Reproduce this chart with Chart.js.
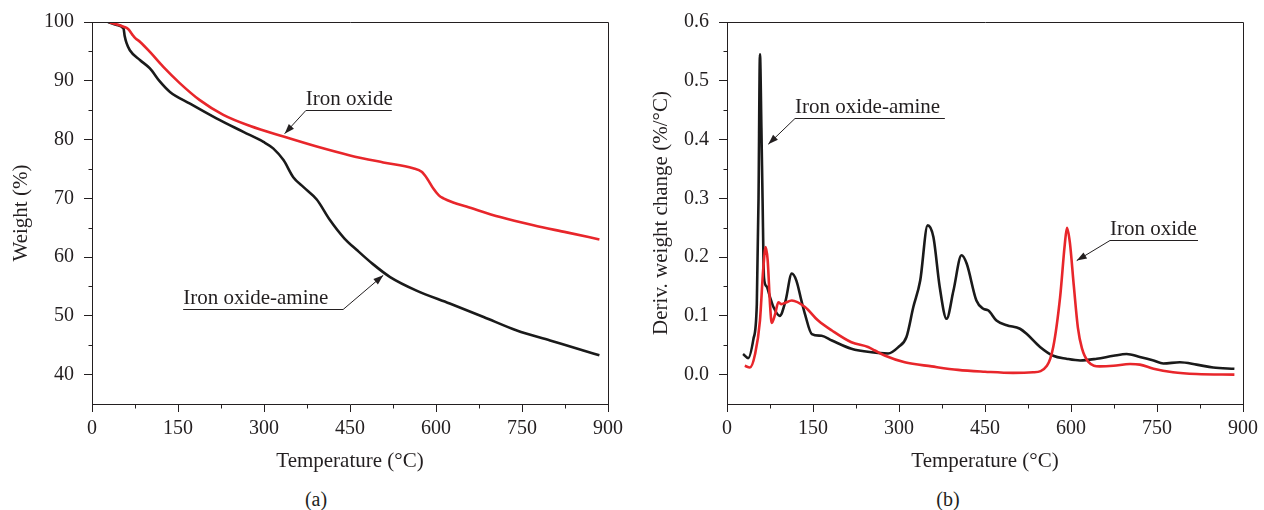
<!DOCTYPE html>
<html>
<head>
<meta charset="utf-8">
<script src="https://cdn.jsdelivr.net/npm/chart.js@4.4.1/dist/chart.umd.min.js"></script>
<style>
  body { margin:0; background:#fff; width:1264px; height:510px; position:relative; overflow:hidden; font-family:"Liberation Serif", serif; }
  canvas { position:absolute; top:0; }
  .cap { position:absolute; top:488px; width:632px; text-align:center; font-size:20px; color:#231f20; }
</style>
</head>
<body>
<canvas id="tga" width="632" height="480" style="left:0"></canvas>
<canvas id="dtg" width="632" height="480" style="left:632px"></canvas>
<div class="cap" style="left:0">(a)</div>
<div class="cap" style="left:632px">(b)</div>
<script>
// axis ticks
var xTicks = [0, 150, 300, 450, 600, 750, 900];
var xMinor = [75, 225, 375, 525, 675, 825];
var tgaTicks = [40, 50, 60, 70, 80, 90, 100];
var tgaMinor = [45, 55, 65, 75, 85, 95];
var dtgTicks = [0, 0.1, 0.2, 0.3, 0.4, 0.5, 0.6];
var dtgMinor = [0.05, 0.15, 0.25, 0.35, 0.45, 0.55];

// (a) weight, iron oxide-amine
var amineTgaT = [28, 43, 55, 57, 60, 66, 84, 101, 119, 136, 171, 217, 264, 299, 316, 334, 351, 369, 392, 415, 440, 462, 490, 520, 566, 624, 683, 741, 799, 857, 885];
var amineTgaW = [100, 99.5, 98.9, 97.6, 96.5, 95.2, 93.5, 92.1, 89.8, 88.1, 86.1, 83.6, 81.3, 79.6, 78.5, 76.5, 73.6, 71.9, 69.8, 66.3, 63.2, 61.2, 58.8, 56.6, 54.3, 52.1, 49.8, 47.5, 45.8, 44.1, 43.3];
// (a) weight, iron oxide
var oxideTgaT = [31, 55, 63, 70, 75, 84, 101, 124, 153, 188, 229, 276, 334, 392, 450, 508, 560, 575, 585, 595, 605, 613, 630, 653, 712, 770, 828, 885];
var oxideTgaW = [99.9, 99.2, 98.8, 97.9, 97.3, 96.6, 94.9, 92.4, 89.6, 86.7, 84.2, 82.3, 80.5, 78.8, 77.3, 76.1, 75.1, 74.5, 73.3, 71.7, 70.5, 70.0, 69.3, 68.6, 66.8, 65.4, 64.2, 63.0];

// (b) derivative, iron oxide-amine
var amineDtgT = [28, 37, 46, 52, 55, 57.5, 60, 62, 64.5, 69, 75, 81, 92, 102, 113, 121, 130, 136, 148, 165, 183, 217, 252, 281, 299, 313, 325, 337, 350, 360, 371, 383, 395, 409, 418, 435, 447, 456, 470, 488, 511, 523, 546, 569, 592, 616, 645, 674, 697, 720, 744, 761, 790, 819, 848, 885];
var amineDtgD = [0.035, 0.028, 0.06, 0.12, 0.3, 0.545, 0.42, 0.3, 0.165, 0.15, 0.132, 0.115, 0.10, 0.125, 0.172, 0.16, 0.125, 0.103, 0.069, 0.066, 0.058, 0.044, 0.038, 0.036, 0.047, 0.064, 0.115, 0.16, 0.254, 0.234, 0.149, 0.095, 0.143, 0.203, 0.189, 0.126, 0.112, 0.109, 0.092, 0.084, 0.078, 0.069, 0.047, 0.032, 0.027, 0.024, 0.027, 0.032, 0.035, 0.03, 0.024, 0.019, 0.021, 0.017, 0.012, 0.01];
// (b) derivative, iron oxide
var oxideDtgT = [31, 40, 49, 57.5, 63, 67.5, 71, 75, 78, 84, 89.5, 95, 101, 113, 136, 159, 183, 217, 246, 258, 276, 310, 357, 403, 450, 499, 534, 558, 569, 581, 589, 593, 598, 605, 612, 619, 630, 650, 674, 703, 720, 744, 778, 819, 885];
var oxideDtgD = [0.015, 0.012, 0.035, 0.092, 0.177, 0.217, 0.194, 0.12, 0.088, 0.103, 0.123, 0.12, 0.122, 0.126, 0.115, 0.092, 0.075, 0.055, 0.047, 0.041, 0.032, 0.021, 0.014, 0.008, 0.005, 0.003, 0.004, 0.015, 0.047, 0.132, 0.22, 0.25, 0.225, 0.15, 0.08, 0.045, 0.022, 0.014, 0.015, 0.018, 0.017, 0.01, 0.004, 0.001, 0.0];

var ink = '#231f20';
var red = '#e8262b';
var black = '#1a1a1a';
var serif = '"Liberation Serif", "Times New Roman", serif';

Chart.defaults.font.family = serif;
Chart.defaults.color = ink;

function pairs(xs, ys) {
  return xs.map(function (x, i) { return { x: x, y: ys[i] }; });
}

function line(data, color) {
  return {
    data: data,
    borderColor: color,
    borderWidth: 2.6,
    pointRadius: 0,
    fill: false,
    cubicInterpolationMode: 'monotone'
  };
}

// frame, minor ticks and the arrow labels
function extras(minorY, notes) {
  return {
    id: 'extras',
    afterDraw: function (chart) {
      var ctx = chart.ctx, a = chart.chartArea;
      var sx = chart.scales.x, sy = chart.scales.y;
      var L = Math.round(a.left) + 0.5, R = Math.round(a.right) + 0.5;
      var T = Math.round(a.top) + 0.5, B = Math.round(a.bottom) + 0.5;
      ctx.save();
      ctx.strokeStyle = ink;
      ctx.fillStyle = ink;
      ctx.lineWidth = 1;
      ctx.beginPath();
      ctx.moveTo(L, T); ctx.lineTo(R, T); ctx.lineTo(R, B);
      xMinor.forEach(function (v) {
        var p = Math.round(sx.getPixelForValue(v)) + 0.5;
        ctx.moveTo(p, B); ctx.lineTo(p, B + 4);
      });
      minorY.forEach(function (v) {
        var p = Math.round(sy.getPixelForValue(v)) + 0.5;
        ctx.moveTo(L, p); ctx.lineTo(L - 4, p);
      });
      ctx.stroke();

      notes.forEach(function (n) {
        var x1 = sx.getPixelForValue(n.under[0]), x2 = sx.getPixelForValue(n.under[1]);
        var y = Math.round(sy.getPixelForValue(n.under[2])) + 0.5;
        var tx = sx.getPixelForValue(n.tip[0]), ty = sy.getPixelForValue(n.tip[1]);
        var ox = n.from === 'end' ? x2 : x1;
        ctx.beginPath();
        ctx.moveTo(x1, y); ctx.lineTo(x2, y);
        ctx.moveTo(ox, y); ctx.lineTo(tx, ty);
        ctx.stroke();
        var ang = Math.atan2(ty - y, tx - ox), c = Math.cos(ang), s = Math.sin(ang);
        ctx.beginPath();
        ctx.moveTo(tx, ty);
        ctx.lineTo(tx - 10 * c + 3.5 * s, ty - 10 * s - 3.5 * c);
        ctx.lineTo(tx - 10 * c - 3.5 * s, ty - 10 * s + 3.5 * c);
        ctx.closePath();
        ctx.fill();
        ctx.font = '21px ' + serif;
        ctx.textAlign = 'left';
        ctx.textBaseline = 'alphabetic';
        ctx.fillText(n.text, x1, y - 6);
      });
      ctx.restore();
    }
  };
}

function axes(yMin, yMax, yTicks, yTitle, yWidth, yTitlePad, fmt) {
  return {
    x: {
      type: 'linear', min: 0, max: 900,
      afterBuildTicks: function (s) { s.ticks = xTicks.map(function (v) { return { value: v }; }); },
      afterFit: function (s) { s.height = 76; },
      grid: { drawOnChartArea: false, tickLength: 8, tickColor: ink },
      border: { color: ink },
      ticks: { font: { size: 20 }, padding: 5, maxRotation: 0 },
      title: { display: true, text: 'Temperature (°C)', font: { size: 21 }, padding: { top: 0, bottom: 6 } }
    },
    y: {
      type: 'linear', min: yMin, max: yMax,
      afterBuildTicks: function (s) { s.ticks = yTicks.map(function (v) { return { value: v }; }); },
      afterFit: function (s) { s.width = yWidth; },
      grid: { drawOnChartArea: false, tickLength: 8, tickColor: ink },
      border: { color: ink },
      ticks: { font: { size: 20 }, padding: 10, callback: fmt },
      title: { display: true, text: yTitle, font: { size: 21 }, padding: { top: yTitlePad, bottom: 0 } }
    }
  };
}

var common = {
  responsive: false,
  animation: false,
  devicePixelRatio: 1,
  plugins: { legend: { display: false }, tooltip: { enabled: false } }
};

new Chart(document.getElementById('tga'), {
  type: 'line',
  data: { datasets: [line(pairs(oxideTgaT, oxideTgaW), red), line(pairs(amineTgaT, amineTgaW), black)] },
  options: Object.assign({}, common, {
    layout: { padding: { left: 0, top: 22, right: 24, bottom: 0 } },
    scales: axes(35, 100, tgaTicks, 'Weight (%)', 92, 9, function (v) { return v; })
  }),
  plugins: [extras(tgaMinor, [
    { text: 'Iron oxide', under: [373, 523, 85.0], tip: [336, 81.0], from: 'start' },
    { text: 'Iron oxide-amine', under: [159, 438, 51.2], tip: [508, 56.9], from: 'end' }
  ])]
});

new Chart(document.getElementById('dtg'), {
  type: 'line',
  data: { datasets: [line(pairs(oxideDtgT, oxideDtgD), red), line(pairs(amineDtgT, amineDtgD), black)] },
  options: Object.assign({}, common, {
    layout: { padding: { left: 0, top: 22, right: 21, bottom: 0 } },
    scales: axes(-0.05, 0.6, dtgTicks, 'Deriv. weight change (%/°C)', 95, 17, function (v) { return v.toFixed(1); })
  }),
  plugins: [extras(dtgMinor, [
    { text: 'Iron oxide-amine', under: [118.6, 380, 0.437], tip: [72, 0.392], from: 'start' },
    { text: 'Iron oxide', under: [668, 821.5, 0.2296], tip: [610, 0.194], from: 'start' }
  ])]
});
</script>
</body>
</html>
